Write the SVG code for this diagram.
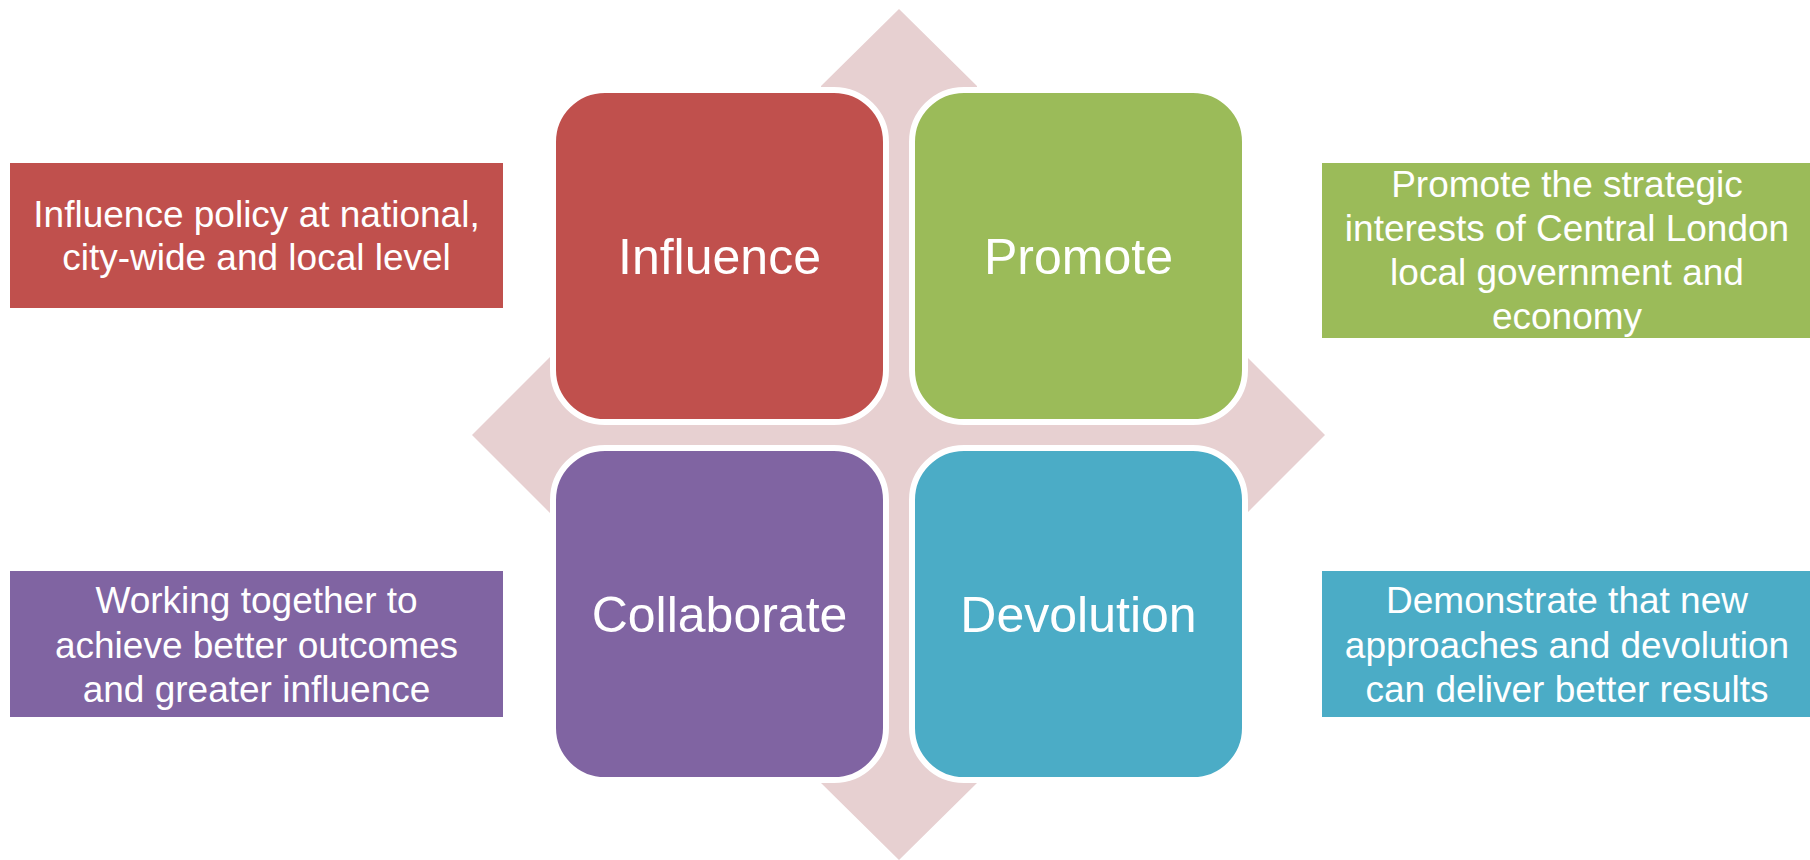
<svg xmlns="http://www.w3.org/2000/svg" width="1810" height="860" viewBox="0 0 1810 860">
<style>
.big{font-family:"Liberation Sans",Arial,sans-serif;font-size:50px;fill:#fff;text-anchor:middle}
.sm{font-family:"Liberation Sans",Arial,sans-serif;font-size:37px;fill:#fff;text-anchor:middle}
.quad{stroke:#fff;stroke-width:6}
</style>
<rect width="1810" height="860" fill="#fff"/>
<g id="connectors">
<polygon id="quad-arrow" fill="#E7D0D1" points="821,86 899,9 977,86 977,357 1247,357 1325,435 1247,513 977,513 977,783 899,860 821,783 821,513 550,513 472,435 550,357 821,357"/>
</g>
<g id="influence">
<rect class="quad" x="553" y="90" width="333" height="332" rx="52" fill="#C0504D"/>
<text class="big" x="719.5" y="274">Influence</text>
</g>
<g id="promote">
<rect class="quad" x="912" y="90" width="333" height="332" rx="52" fill="#9BBB59"/>
<text class="big" x="1078.5" y="274">Promote</text>
</g>
<g id="collaborate">
<rect class="quad" x="553" y="448" width="333" height="332" rx="52" fill="#8064A2"/>
<text class="big" x="719.5" y="632">Collaborate</text>
</g>
<g id="devolution">
<rect class="quad" x="912" y="448" width="333" height="332" rx="52" fill="#4BACC6"/>
<text class="big" x="1078.5" y="632">Devolution</text>
</g>
<g id="influence-desc">
<rect x="10" y="163" width="493" height="145" fill="#C0504D"/>
<text class="sm" x="256.5" y="227">Influence policy at national,</text>
<text class="sm" x="256.5" y="270">city-wide and local level</text>
</g>
<g id="promote-desc">
<rect x="1322" y="163" width="488" height="175" fill="#9BBB59"/>
<text class="sm" x="1567" y="197">Promote the strategic</text>
<text class="sm" x="1567" y="241">interests of Central London</text>
<text class="sm" x="1567" y="285">local government and</text>
<text class="sm" x="1567" y="329">economy</text>
</g>
<g id="collaborate-desc">
<rect x="10" y="571" width="493" height="146" fill="#8064A2"/>
<text class="sm" x="256.5" y="613">Working together to</text>
<text class="sm" x="256.5" y="658">achieve better outcomes</text>
<text class="sm" x="256.5" y="702">and greater influence</text>
</g>
<g id="devolution-desc">
<rect x="1322" y="571" width="488" height="146" fill="#4BACC6"/>
<text class="sm" x="1567" y="613">Demonstrate that new</text>
<text class="sm" x="1567" y="658">approaches and devolution</text>
<text class="sm" x="1567" y="702">can deliver better results</text>
</g>
</svg>
